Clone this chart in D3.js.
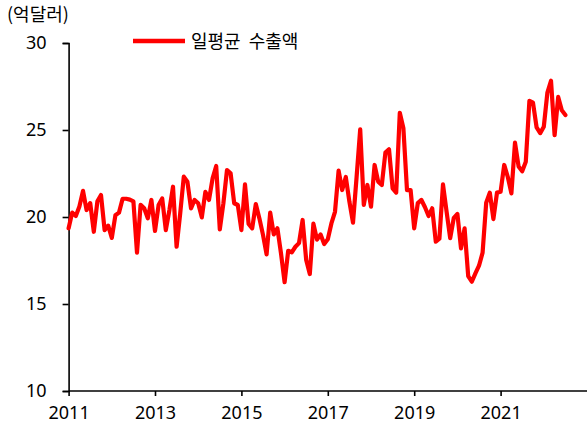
<!DOCTYPE html>
<html><head><meta charset="utf-8">
<script src="https://cdn.jsdelivr.net/npm/d3@7"></script>
<style>
html,body{margin:0;padding:0;background:#fff;}
svg{display:block;font-family:"Noto Sans CJK KR","Noto Sans",sans-serif;}
</style></head>
<body>
<svg id="chart" width="587" height="429"></svg>
<script>
// Monthly data, Jan 2011 .. Jul 2022 (억달러)
const startYear = 2011;
const seriesName = "일평균  수출액";
const unitLabel = "(억달러)";
const values = [
  19.35,20.25,20.06,20.6,21.5,20.4,20.8,19.15,20.9,21.26,19.25,19.5,
  18.8,20.1,20.25,21.05,21.05,21.0,20.9,17.95,20.7,20.5,19.92,20.98,
  19.2,20.69,21.07,19.25,20.4,21.74,18.29,20.2,22.32,22.03,20.5,20.98,
  20.79,19.98,21.45,20.98,22.22,22.93,19.29,20.79,22.7,22.51,20.79,20.69,
  19.25,21.87,19.6,19.35,20.74,19.92,18.97,17.85,20.25,19.0,19.35,17.91,
  16.25,18.06,17.97,18.29,18.5,19.83,17.53,16.72,19.62,18.7,19.0,18.45,
  18.72,19.63,20.3,22.66,21.55,22.3,20.88,19.67,22.3,25.04,20.69,21.84,
  20.59,22.99,22.03,21.84,23.7,23.89,21.65,21.4,25.99,25.1,21.55,21.55,
  19.35,20.8,20.98,20.56,20.06,20.5,18.58,18.75,21.87,20.3,18.78,19.95,
  20.17,18.2,19.35,16.6,16.28,16.76,17.2,17.95,20.82,21.4,19.88,21.4,
  21.45,22.99,22.3,21.36,24.27,22.9,22.63,23.18,26.68,26.57,25.15,24.82,
  25.19,27.15,27.83,24.7,26.9,26.13,25.86
];
const xTicks = [2011, 2013, 2015, 2017, 2019, 2021];
const yTicks = [10, 15, 20, 25, 30];

const svg = d3.select("#chart");
const x = d3.scaleLinear().domain([2011, 2023]).range([68.6, 587]);
const y = d3.scaleLinear().domain([10, 30]).range([391, 43]);

const data = values.map((v, i) => ({t: startYear + i / 12, v}));

// Y axis
const yAxis = svg.append("g").attr("transform", "translate(68.6,0)")
  .call(d3.axisLeft(y).tickValues(yTicks).tickSize(6).tickPadding(16).tickFormat(d3.format("d")));
// X axis
const xAxis = svg.append("g").attr("transform", "translate(0,391)")
  .call(d3.axisBottom(x).tickValues(xTicks).tickSize(5).tickPadding(10).tickFormat(d3.format("d")));
[yAxis, xAxis].forEach(g => {
  g.select(".domain").attr("stroke", "#000").attr("stroke-width", 1.6);
  g.selectAll(".tick line").attr("stroke", "#000").attr("stroke-width", 1.6);
  g.selectAll(".tick text").attr("fill", "#000").style("font-size", "18px")
    .style("font-family", '"Noto Sans","Noto Sans CJK KR",sans-serif');
});
xAxis.select(".domain").attr("d", "M68.6,0H587");

// Line
svg.append("path").datum(data)
  .attr("fill", "none").attr("stroke", "#ff0000").attr("stroke-width", 4.2)
  .attr("stroke-linejoin", "round").attr("stroke-linecap", "round")
  .attr("d", d3.line().x(d => x(d.t)).y(d => y(d.v)));

// Unit label
svg.append("text").attr("x", 7).attr("y", 21).text(unitLabel)
  .style("font-size", "18px").attr("fill", "#000");

// Legend
svg.append("line").attr("x1", 133).attr("x2", 185).attr("y1", 41).attr("y2", 41)
  .attr("stroke", "#ff0000").attr("stroke-width", 4.5);
svg.append("text").attr("x", 191).attr("y", 48).text(seriesName)
  .style("font-size", "18px").attr("fill", "#000").style("white-space", "pre");
</script>
</body></html>
